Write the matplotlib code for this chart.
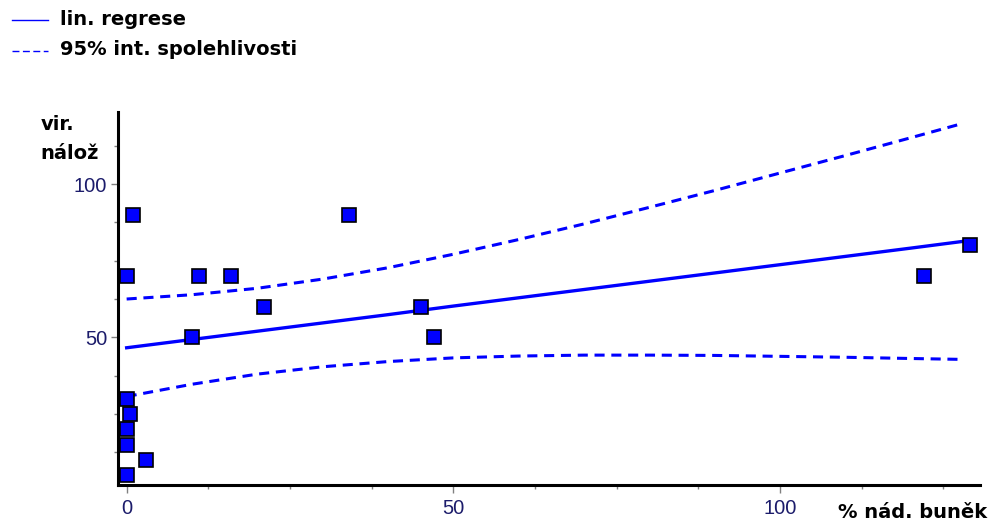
"""Linear regression of viral load vs. % tumour cells, with 95% confidence band."""
import matplotlib

matplotlib.use("Agg")
import matplotlib.pyplot as plt
from matplotlib.lines import Line2D
from matplotlib.ticker import MultipleLocator

# measured points: % nád. buněk vs. vir. nálož
pct_cells = [1, 0, 11, 16, 10, 0, 0.5, 0, 0, 3, 0, 34, 21, 45, 47, 122, 129]
viral_load = [90, 70, 70, 70, 50, 30, 25, 20, 15, 10, 5, 90, 60, 60, 50, 70, 80]

# regression line and 95% band
band_x = [0, 10, 20, 30, 40, 50, 60, 70, 80, 90, 100, 110, 120, 128]
fit_y = [46.6, 49.3, 52.0, 54.7, 57.4, 60.2, 62.9, 65.6, 68.3, 71.0, 73.7, 76.4, 79.1, 81.3]
upper_y = [62.5, 63.9, 66.0, 69.0, 72.7, 77.1, 81.9, 87.0, 92.4, 97.9, 103.6, 109.3, 115.1, 119.8]
lower_y = [30.7, 34.7, 38.0, 40.4, 42.1, 43.3, 43.9, 44.2, 44.2, 44.1, 43.8, 43.5, 43.1, 42.8]

legend_labels = ["lin. regrese", "95% int. spolehlivosti"]
x_label = "% nád. buněk"
y_label = ["vir.", "nálož"]

BLUE = "#0000FF"
TICK_TEXT = "#1c1c6b"
TICK_GREY = "#808080"
BOLD = {"family": "DejaVu Sans", "weight": "bold", "size": 14}

W, H = 999, 531
fig = plt.figure(figsize=(W / 100, H / 100), dpi=100)
ax = fig.add_axes([117.5 / W, 1 - 484.5 / H, (980 - 117.5) / W, (484.5 - 112) / H])

ax.plot(band_x, fit_y, color=BLUE, linewidth=2.4, zorder=2)
for band in (upper_y, lower_y):
    ax.plot(band_x, band, color=BLUE, linewidth=2.2, linestyle=(0, (3.3, 2.2)), zorder=2)
ax.plot(pct_cells, viral_load, linestyle="none", marker="s", markersize=10.5,
        markerfacecolor=BLUE, markeredgecolor="black", markeredgewidth=1.2, zorder=3)

ax.set_xlim(-1.4, 130.6)
ax.set_ylim(2.0, 123.5)

for side in ("top", "right"):
    ax.spines[side].set_visible(False)
for side in ("left", "bottom"):
    ax.spines[side].set_linewidth(2.2)
    ax.spines[side].set_color("black")

ax.xaxis.set_major_locator(MultipleLocator(50))
ax.xaxis.set_minor_locator(MultipleLocator(12.5))
ax.yaxis.set_major_locator(MultipleLocator(50))
ax.yaxis.set_minor_locator(MultipleLocator(12.5))
ax.set_yticks([50, 100])
ax.tick_params(which="major", direction="out", length=5.4, width=1.0, color=TICK_GREY,
               labelsize=14.5, labelcolor=TICK_TEXT)
ax.tick_params(which="minor", direction="out", length=2.8, width=1.0, color=TICK_GREY)
ax.tick_params(axis="x", which="major", pad=5)
ax.tick_params(axis="y", which="major", pad=2)
for lbl in ax.get_xticklabels() + ax.get_yticklabels():
    lbl.set_family("Liberation Sans")

# axis titles
fig.text(838 / W, 1 - 518 / H, x_label, ha="left", va="baseline", **BOLD)
fig.text(41 / W, 1 - 130 / H, y_label[0], ha="left", va="baseline", **BOLD)
fig.text(40 / W, 1 - 159 / H, y_label[1], ha="left", va="baseline", **BOLD)

# legend in the top-left corner
fig.add_artist(Line2D([12 / W, 48 / W], [1 - 20 / H] * 2, transform=fig.transFigure,
                      color=BLUE, linewidth=1.0))
fig.add_artist(Line2D([12 / W, 48 / W], [1 - 51 / H] * 2, transform=fig.transFigure,
                      color=BLUE, linewidth=1.0, linestyle=(0, (5, 2.5))))
fig.text(60 / W, 1 - 25 / H, legend_labels[0], ha="left", va="baseline", **BOLD)
fig.text(60 / W, 1 - 55 / H, legend_labels[1], ha="left", va="baseline", **BOLD)

fig.savefig("out.png", dpi=100)
